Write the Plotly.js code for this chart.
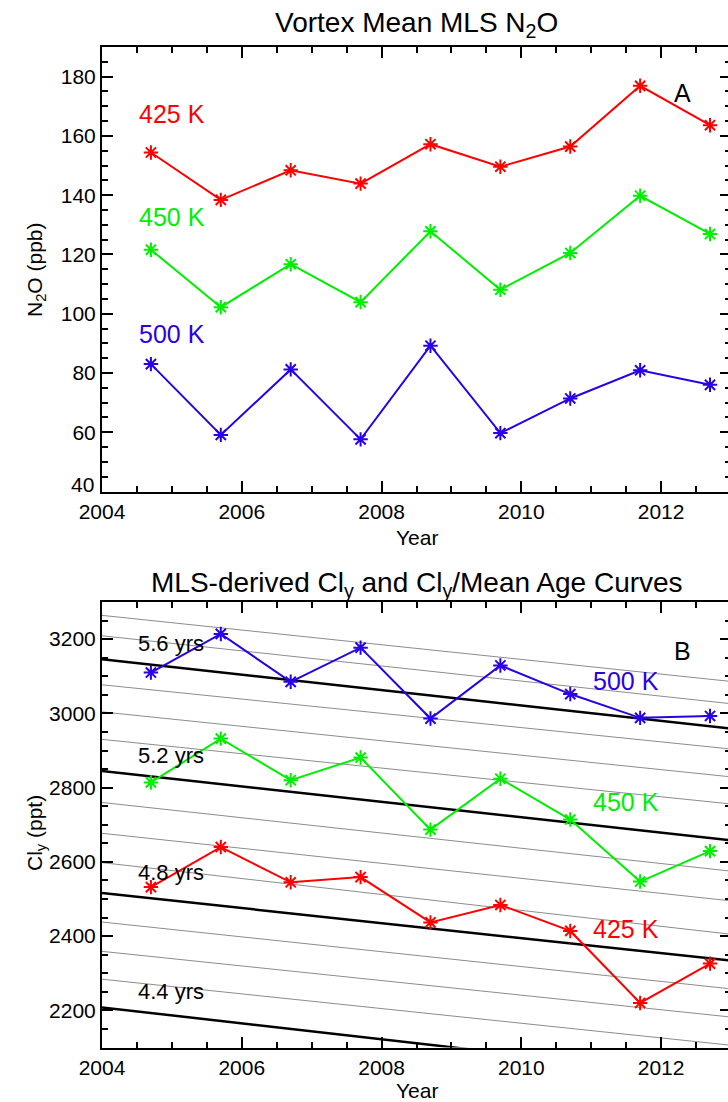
<!DOCTYPE html>
<html>
<head>
<meta charset="utf-8">
<script src="https://cdn.plot.ly/plotly-3.0.1.min.js"></script>
<style>
html, body { margin: 0; padding: 0; overflow: hidden; background: #fff; }
#chart { width: 731px; height: 1102px; }
</style>
</head>
<body>
<div id="chart"></div>
<script>
// ---- data ----
const years = [2004.7, 2005.7, 2006.7, 2007.7, 2008.7, 2009.7, 2010.7, 2011.7, 2012.7];
const n2o425 = [154.4, 138.4, 148.4, 143.9, 157.2, 149.6, 156.4, 176.9, 163.6];
const n2o450 = [121.6, 102.2, 116.7, 103.9, 127.8, 108.1, 120.5, 139.8, 126.9];
const n2o500 = [83.0, 59.1, 81.2, 57.6, 89.2, 59.7, 71.4, 80.9, 76.0];
const cly425 = [2532, 2640, 2545, 2559, 2437, 2484, 2414, 2220, 2326];
const cly450 = [2814, 2932, 2820, 2881, 2687, 2824, 2714, 2547, 2629];
const cly500 = [3110, 3214, 3085, 3177, 2986, 3129, 3052, 2988, 2993];
// Cly / mean age curves (value at start and end of the period)
const curveYears = [2004, 2013];
const meanAges = [4.4, 4.5, 4.6, 4.7, 4.8, 4.9, 5.0, 5.1, 5.2, 5.3, 5.4, 5.5, 5.6, 5.7, 5.8];
const clyAgeStart = [2208, 2284, 2359, 2438, 2516, 2598, 2677, 2760, 2845, 2930, 3004, 3077, 3146, 3209, 3264];
const clyAgeEnd   = [2015, 2106, 2182, 2258, 2334, 2405, 2495, 2575, 2658, 2756, 2829, 2904, 2959, 3026, 3086];
const labeledAges = [4.4, 4.8, 5.2, 5.6];
const xTickVals = [2004, 2006, 2008, 2010, 2012];
const n2oTicks = [40, 60, 80, 100, 120, 140, 160, 180];
const clyTicks = [2200, 2400, 2600, 2800, 3000, 3200];

// ---- styles ----
const RED = '#ff0000', GREEN = '#00ee00', BLUE = '#2a00e6';
const W = 731, H = 1102, L = 102;
const px = x => (x - L) / (W - L);
const py = y => 1 - y / H;

const traces = [];
// mean age curves (panel B)
meanAges.forEach((age, i) => {
  const thick = labeledAges.some(a => Math.abs(a - age) < 1e-6);
  traces.push({
    x: curveYears, y: [clyAgeStart[i], clyAgeEnd[i]],
    xaxis: 'x2', yaxis: 'y2', mode: 'lines', hoverinfo: 'skip',
    line: { color: thick ? '#000000' : '#8c8c8c', width: thick ? 2.5 : 1 }
  });
});
function series(x, y, color, xa, ya) {
  return {
    x: x, y: y, xaxis: xa, yaxis: ya, mode: 'lines+markers',
    line: { color: color, width: 2 },
    marker: { symbol: 'asterisk-open', size: 12, color: color, line: { color: color, width: 2 } }
  };
}
traces.push(series(years, n2o425, RED, 'x', 'y'));
traces.push(series(years, n2o450, GREEN, 'x', 'y'));
traces.push(series(years, n2o500, BLUE, 'x', 'y'));
traces.push(series(years, cly500, BLUE, 'x2', 'y2'));
traces.push(series(years, cly450, GREEN, 'x2', 'y2'));
traces.push(series(years, cly425, RED, 'x2', 'y2'));

const tickFont = { size: 21, color: '#000' };
function xAxis(anchor) {
  return {
    anchor: anchor, domain: [0, 1], range: [2004, 2013],
    tickvals: xTickVals, ticktext: xTickVals.map(String),
    ticks: 'inside', ticklen: 11, tickwidth: 2, tickcolor: '#000',
    showline: true, linewidth: 2, linecolor: '#000', mirror: 'ticks',
    showgrid: false, zeroline: false, tickfont: tickFont,
    minor: { dtick: 0.5, tick0: 2004, ticks: 'inside', ticklen: 6, tickwidth: 2, tickcolor: '#000', showgrid: false }
  };
}
function yAxis(anchor, domain, range, vals, text, minorStep) {
  return {
    anchor: anchor, domain: domain, range: range,
    tickvals: vals, ticktext: text,
    ticks: 'inside', ticklen: 11, tickwidth: 2, tickcolor: '#000',
    showline: true, linewidth: 2, linecolor: '#000', mirror: 'ticks',
    showgrid: false, zeroline: false, tickfont: tickFont,
    minor: { dtick: minorStep, ticks: 'inside', ticklen: 6, tickwidth: 2, tickcolor: '#000', showgrid: false }
  };
}

const ann = [];
function note(text, x, y, xref, yref, opts) {
  ann.push(Object.assign({ text: text, x: x, y: y, xref: xref, yref: yref, showarrow: false,
    font: { size: 24, color: '#000' }, xanchor: 'left', yanchor: 'middle' }, opts || {}));
}
// titles
note('Vortex Mean MLS N<sub>2</sub>O', 0.5, py(24), 'paper', 'paper', { xanchor: 'center', font: { size: 28, color: '#000' } });
note('MLS-derived Cl<sub>y</sub> and Cl<sub>y</sub>/Mean Age Curves', 0.5, py(584), 'paper', 'paper', { xanchor: 'center', font: { size: 28, color: '#000' } });
// axis titles
note('Year', 0.5, py(537), 'paper', 'paper', { xanchor: 'center', font: { size: 21, color: '#000' } });
note('Year', 0.5, py(1090), 'paper', 'paper', { xanchor: 'center', font: { size: 21, color: '#000' } });
note('N<sub>2</sub>O (ppb)', px(36), py(270), 'paper', 'paper', { xanchor: 'center', textangle: -90, font: { size: 21, color: '#000' } });
note('Cl<sub>y</sub> (ppt)', px(36), py(833), 'paper', 'paper', { xanchor: 'center', textangle: -90, font: { size: 21, color: '#000' } });
// lowest N2O tick label, raised as in the reference
note('40', px(96), py(484), 'paper', 'paper', { xanchor: 'right', font: tickFont });
// panel A labels
note('425 K', 2004.5, 167.5, 'x', 'y', { font: { size: 25, color: RED } });
note('450 K', 2004.5, 132.7, 'x', 'y', { font: { size: 25, color: GREEN } });
note('500 K', 2004.5, 93.3, 'x', 'y', { font: { size: 25, color: BLUE } });
note('A', 2012.31, 174.6, 'x', 'y', { xanchor: 'center', font: { size: 25, color: '#000' } });
// panel B labels
note('500 K', 2011.0, 3088, 'x2', 'y2', { font: { size: 25, color: BLUE } });
note('450 K', 2011.0, 2762, 'x2', 'y2', { font: { size: 25, color: GREEN } });
note('425 K', 2011.0, 2418, 'x2', 'y2', { font: { size: 25, color: RED } });
note('B', 2012.31, 3169, 'x2', 'y2', { xanchor: 'center', font: { size: 25, color: '#000' } });
const ageLabelY = [2250, 2572, 2886, 3187];
labeledAges.forEach((a, i) => {
  note(a.toFixed(1) + ' yrs', 2004.49, ageLabelY[i], 'x2', 'y2', { font: { size: 22, color: '#000' } });
});

const layout = {
  width: W, height: H,
  margin: { l: L, r: 0, t: 0, b: 0 },
  paper_bgcolor: '#fff', plot_bgcolor: '#fff',
  font: { family: 'Liberation Sans, Arial, sans-serif', color: '#000' },
  showlegend: false,
  xaxis: xAxis('y'),
  xaxis2: xAxis('y2'),
  yaxis: yAxis('x', [py(491.5), py(47)], [40, 190], n2oTicks, n2oTicks.map(v => v === 40 ? '' : String(v)), 5),
  yaxis2: yAxis('x2', [py(1047.5), py(602)], [2100, 3300], clyTicks, clyTicks.map(String), 50),
  annotations: ann
};

Plotly.newPlot('chart', traces, layout, { staticPlot: true, displayModeBar: false });
</script>
</body>
</html>
